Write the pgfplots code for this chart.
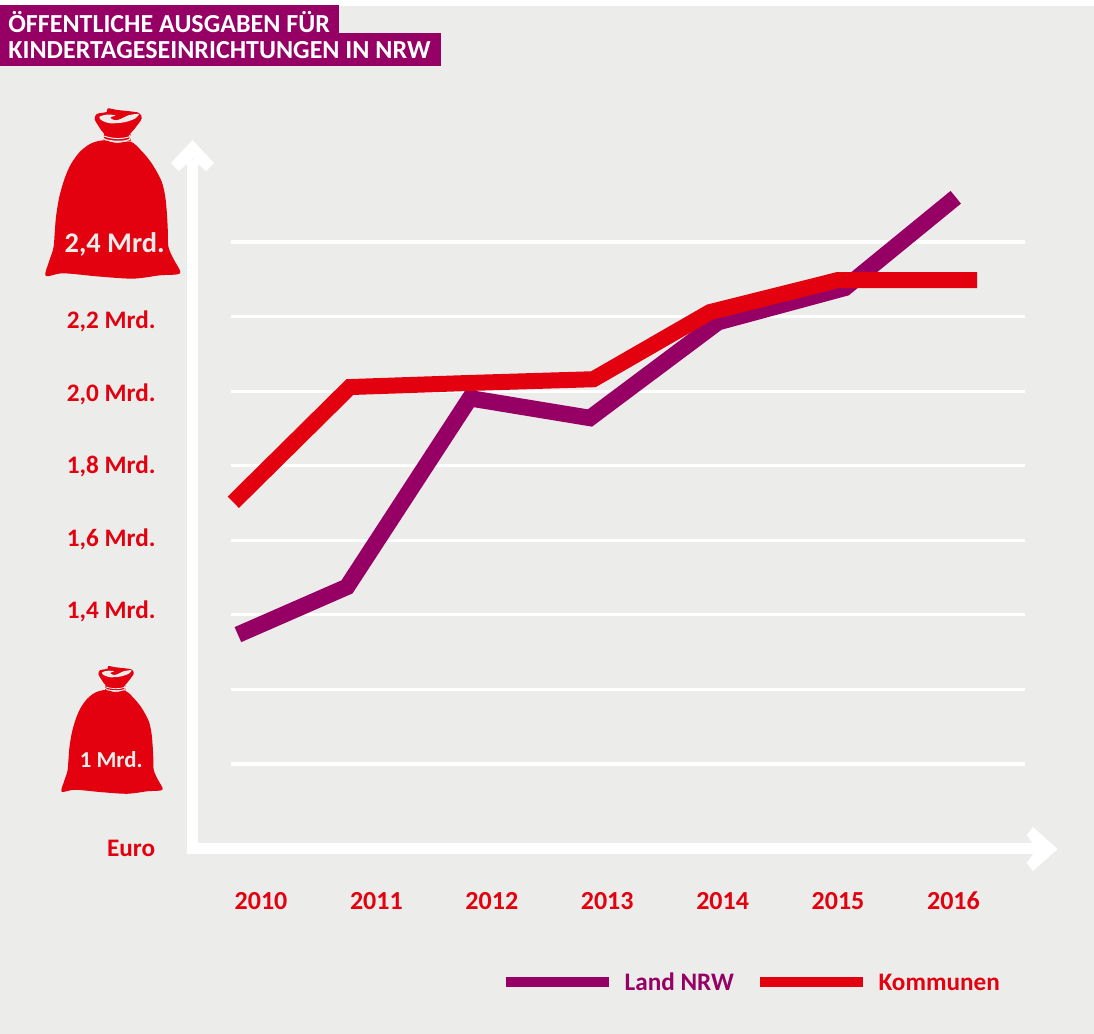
\documentclass[border=0pt]{standalone}
\usepackage{pgfplots}
\pgfplotsset{compat=1.18}
\usepackage{fontspec}
\setmainfont{Carlito}
\definecolor{bg}{HTML}{ECECEA}
\definecolor{nrwred}{HTML}{E3000F}
\definecolor{nrwpurple}{HTML}{960064}
\newcommand{\yl}[3]{\raisebox{#1pt}[0pt][0pt]{#3}\kern #2pt}
\newcommand{\sack}[3]{%
\begin{scope}[shift={(#1,#2)},x=#3*0.5pt/3,y=-#3*0.5pt/3,shift={(-137,-325)}]
\fill[nrwred] plot[smooth cycle,tension=0.5] coordinates {(310,421)(272,431)(240,455)(213,492)(194,535)(178,590)(168,650)(164,700)(160,745)(147,785)(137,828)(190,820)(300,830)(400,836)(480,826)(540,820)(522,780)(505,740)(503,680)(497,600)(485,545)(455,490)(422,450)(392,425)(350,429)};
\fill[nrwred] plot[smooth cycle,tension=0.45] coordinates {(312,400)(298,382)(284,358)(290,342)(320,336)(323,325)(352,330)(415,338)(425,355)(410,378)(388,402)(350,408)};
\fill[nrwred] (311,398) -- (392,400) -- (392,424) -- (311,422) -- cycle;
\fill[bg] plot[smooth cycle,tension=0.5] coordinates {(298,351)(320,344)(346,346)(331,353)(345,361)(362,357)(385,346)(416,342)(405,356)(372,367)(332,370)(306,362)};
\draw[bg,line width=#3*0.6pt] (310,400) .. controls (306,412) and (310,418) .. (320,420) .. controls (345,426) and (375,425) .. (388,419) .. controls (394,414) and (392,408) .. (388,405);
\draw[bg,line width=#3*0.5pt] (311,408) .. controls (340,418) and (365,418) .. (390,410);
\end{scope}}
\begin{document}
\begin{tikzpicture}
\begin{scope}[x=0.5pt,y=-0.5pt]
\fill[white] (0,0) rectangle (1094,1034);
\path[use as bounding box] (0,0) rectangle (1094,1034);
\fill[bg] (0,6) rectangle (1094,1034);
\fill[nrwpurple] (0,5) rectangle (339,34);
\fill[nrwpurple] (0,33) rectangle (441,66);
\node[anchor=base west,inner sep=0pt,text=white,font=\fontsize{13pt}{15pt}\selectfont\bfseries] at (8,32) {ÖFFENTLICHE AUSGABEN FÜR};
\node[anchor=base west,inner sep=0pt,text=white,font=\fontsize{13pt}{15pt}\selectfont\bfseries] at (8,58) {KINDERTAGESEINRICHTUNGEN IN NRW};
\sack{45.7}{108.3}{1}
\sack{61.7}{666}{0.75}
% axis arrows
\fill[white] (187,160) rectangle (198,854);
\fill[white] (187,843) rectangle (1040,854);
\fill[white] (192.5,140) -- (214,163) -- (206,171) -- (192.5,159) -- (179,171) -- (171,163) -- cycle;
\fill[white] (1057.5,849) -- (1033,827) -- (1026.6,835) -- (1037,849) -- (1026.6,863) -- (1033,871) -- cycle;
\node[anchor=base east,inner sep=0pt,text=nrwred,font=\fontsize{12.6pt}{15pt}\selectfont\bfseries] at (155.5,856) {Euro};
\end{scope}
\begin{axis}[
  at={(115.5pt,-382pt)},anchor=south west,
  scale only axis,width=397pt,height=261pt,
  xmin=2009.74,xmax=2016.62,ymin=1.0,ymax=2.4,
  clip=false,
  axis line style={draw=none},
  tick style={draw=none},
  major tick length=0pt,
  ymajorgrids,
  grid style={white,line width=1.6pt},
  xtick={2010,2011,2012,2013,2014,2015,2016},
  xticklabels={2010,2011,2012,2013,2014,2015,2016},
  xticklabel style={anchor=base,inner sep=0pt,yshift=-72.5pt,text=nrwred,font=\fontsize{13pt}{15pt}\selectfont\bfseries},
  ytick={1.0,1.2,1.4,1.6,1.8,2.0,2.2,2.4},
  yticklabels={
    {\yl{-1.5}{6.5}{\fontsize{11.4pt}{14pt}\selectfont\textcolor{bg}{1 Mrd.}}},
    {},
    {\yl{-2}{0}{1,4 Mrd.}},
    {\yl{-3}{0}{1,6 Mrd.}},
    {\yl{-4}{0}{1,8 Mrd.}},
    {\yl{-5}{0}{2,0 Mrd.}},
    {\yl{-6}{0}{2,2 Mrd.}},
    {\yl{-5}{-4.5}{\fontsize{14.2pt}{16pt}\selectfont\textcolor{bg}{2,4 Mrd.}}}
  },
  yticklabel style={anchor=east,inner sep=0pt,xshift=-37.5pt,text=nrwred,font=\fontsize{12.6pt}{15pt}\selectfont\bfseries},
  legend columns=2,
  legend cell align=left,
  legend style={at={(0.3397,-0.4176)},anchor=west,draw=none,fill=none,inner sep=0pt,outer sep=0pt,
    /tikz/every even column/.append style={column sep=10.3pt},
    /tikz/every odd column/.append style={column sep=5.5pt},
    nodes={inner sep=0pt,font=\fontsize{12.6pt}{15pt}\selectfont\bfseries}},
  legend image code/.code={\draw[#1,line width=5pt] (0pt,0pt) -- (51.5pt,0pt);},
]
\addplot[nrwpurple,line width=8.2pt,line join=miter] coordinates {
 (2009.80,1.347)(2010.745,1.475)(2011.81,1.981)(2012.85,1.928)(2013.96,2.185)(2015.06,2.277)(2016.02,2.520)};
\addlegendentry{\raisebox{-1pt}{\textcolor{nrwpurple}{Land NRW}}}
\addplot[nrwred,line width=8pt,line join=miter] coordinates {
 (2009.76,1.702)(2010.77,2.011)(2011.81,2.022)(2012.88,2.032)(2013.89,2.212)(2015.00,2.298)(2016.205,2.298)};
\addlegendentry{\raisebox{-1.5pt}{\textcolor{nrwred}{Kommunen}}}
\end{axis}
\end{tikzpicture}
\end{document}
